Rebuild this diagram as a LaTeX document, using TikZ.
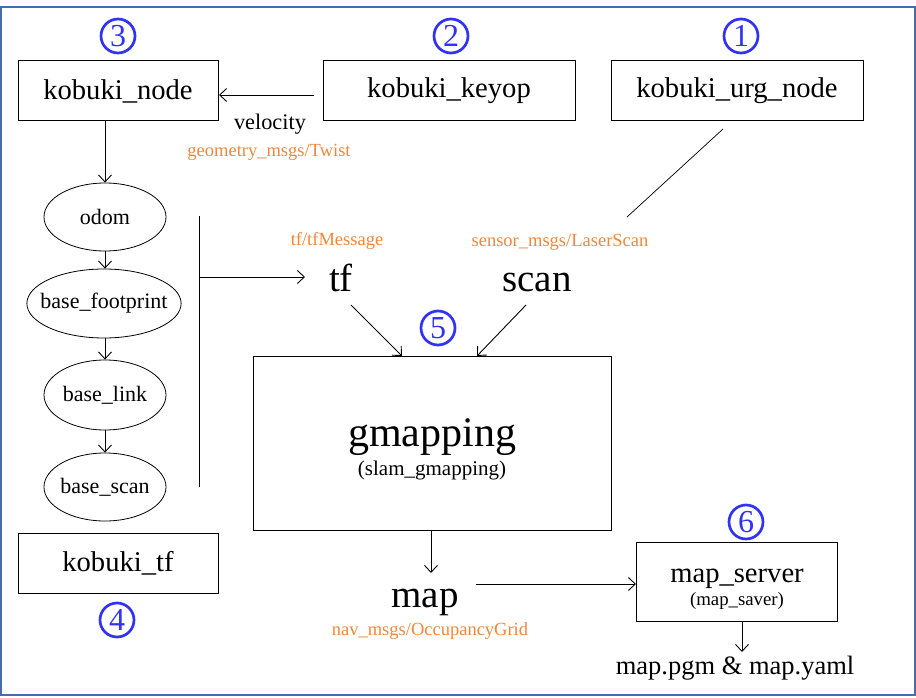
\documentclass[tikz,border=0pt]{standalone}
\usepackage{fontspec}
\setmainfont{Liberation Serif}
\newfontfamily\txtfont{Liberation Serif}
\usetikzlibrary{shapes.geometric,arrows.meta}
\definecolor{msgorange}{RGB}{240,135,60}
\definecolor{numblue}{RGB}{50,50,245}
\definecolor{framecol}{RGB}{70,110,165}
\newcommand{\fs}[1]{\txtfont\fontsize{#1}{#1}\selectfont}
\tikzset{
    every node/.style={inner sep=0pt},
    pkg/.style={rectangle, draw, line width=1pt},
    frame/.style={ellipse, draw, line width=0.8pt, inner xsep=-9pt, font=\fs{22}},
    msg/.style={text=msgorange, font=\fs{18.5}},
    topic/.style={font=\fs{39}},
    num/.style={circle, draw=numblue, line width=2.7pt, minimum size=34pt, text=numblue, font=\fs{32}},
    flow/.style={-{Straight Barb[length=7pt,width=13pt]}, line width=0.9pt}
}

\begin{document}
\begin{tikzpicture}[x=1pt, y=-1pt]
    \useasboundingbox (0,0) rectangle (916,698);
    \draw[framecol, line width=1.2pt] (1,7) rectangle (915,695);

    % packages
    \node (kn) [pkg, minimum width=200, minimum height=60, font=\fs{28.6}] at (118,91) {kobuki\_node};
    \node (kk) [pkg, minimum width=252, minimum height=60, font=\fs{28.6}] at (449,91) {kobuki\_keyop};
    \node (ku) [pkg, minimum width=252, minimum height=60, font=\fs{28.6}] at (737,91) {kobuki\_urg\_node};
    \node (kt) [pkg, minimum width=200, minimum height=60, font=\fs{28.6}] at (118,563) {kobuki\_tf};
    \node (gm) [pkg, minimum width=358, minimum height=174] at (432,443) {};
    \node (gmt) [font=\fs{42}] at (432,437) {gmapping};
    \node (gms) [font=\fs{21}] at (432,470) {(slam\_gmapping)};
    \node (ms) [pkg, minimum width=201, minimum height=79] at (736.5,581.5) {};
    \node (mst) [font=\fs{28.6}] at (737,579) {map\_server};
    \node (mss) [font=\fs{18.8}] at (737,601) {(map\_saver)};

    % numbers
    \node (n1) [num] at (741,36) {1};
    \node (n2) [num] at (451,36) {2};
    \node (n3) [num] at (118,36) {3};
    \node (n4) [num] at (117,620) {4};
    \node (n5) [num] at (438,328) {5};
    \node (n6) [num] at (746,522) {6};

    % tf frames
    \node (od) [frame, minimum width=122, minimum height=68] at (105,217) {odom};
    \node (bf) [frame, minimum width=154, minimum height=69] at (104,303.5) {base\_footprint};
    \node (bl) [frame, minimum width=122, minimum height=70] at (105,395) {base\_link};
    \node (bs) [frame, minimum width=122, minimum height=68] at (105,487) {base\_scan};

    % topics
    \node (vel) [font=\fs{22.3}] at (270,124) {velocity};
    \node (velm) [msg] at (269,152) {geometry\_msgs/Twist};
    \node (tf) [topic] at (341,278) {tf};
    \node (tfm) [msg] at (337,241) {tf/tfMessage};
    \node (sc) [topic] at (537,283) {scan};
    \node (scm) [msg] at (560,242) {sensor\_msgs/LaserScan};
    \node (mp) [topic] at (425,602) {map};
    \node (mpm) [msg] at (430,631) {nav\_msgs/OccupancyGrid};
    \node (out) [font=\fs{26.5}] at (735,668) {map.pgm \& map.yaml};

    \coordinate (kk1) at (314,95);
    \coordinate (kn1) at (219,95);
    \coordinate (bar1) at (199,216);
    \coordinate (bar2) at (199,487);
    \coordinate (bar3) at (199,277);
    \coordinate (tf0) at (305,277);
    \coordinate (ku1) at (723,129);
    \coordinate (sc0) at (627,217);
    \coordinate (tf1) at (351,305);
    \coordinate (gm1) at (402,356);
    \coordinate (sc1) at (526,305);
    \coordinate (gm2) at (477,356);
    \coordinate (mp0) at (431,573);
    \coordinate (mp1) at (476,584);
    \coordinate (ms1) at (636,584);
    \coordinate (out0) at (742,652);

    \draw[flow] (kk1) -- (kn1);
    \draw[flow] (kn.south -| od.north) -- (od.north);
    \draw[flow] (od.south) -- (bf.north -| od.south);
    \draw[flow] (bf.south -| od.south) -- (bl.north);
    \draw[flow] (bl.south) -- (bs.north);
    \draw[line width=0.9pt] (bar1) -- (bar2);
    \draw[flow] (bar3) -- (tf0);
    \draw[line width=0.7pt] (ku1) -- (sc0);
    \draw[flow] (tf1) -- (gm1);
    \draw[flow] (sc1) -- (gm2);
    \draw[flow] (gm.south -| mp0) -- (mp0);
    \draw[flow] (mp1) -- (ms1);
    \draw[flow] (ms.south -| out0) -- (out0);
\end{tikzpicture}
\end{document}
